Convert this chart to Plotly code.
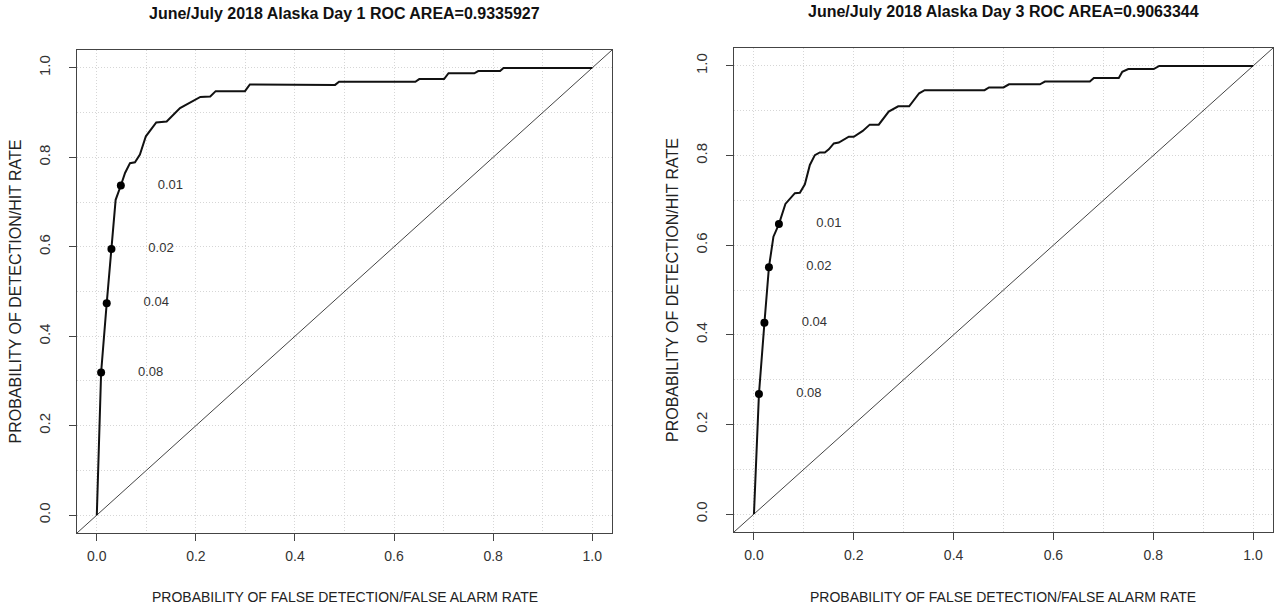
import plotly.graph_objects as go

# ---------------- Data ----------------
# Day 1 ROC curve (POFD, POD)
day1_pofd = [0.0, 0.0087, 0.020, 0.0295, 0.038, 0.0485, 0.057, 0.067, 0.077, 0.087, 0.099,
             0.120, 0.141, 0.168, 0.209, 0.229, 0.240, 0.299, 0.309, 0.481, 0.489, 0.643,
             0.651, 0.701, 0.710, 0.762, 0.770, 0.814, 0.821, 1.0]
day1_pod = [0.0, 0.319, 0.474, 0.595, 0.705, 0.737, 0.765, 0.787, 0.789, 0.806, 0.847,
            0.878, 0.880, 0.910, 0.935, 0.936, 0.948, 0.948, 0.963, 0.962, 0.969, 0.969,
            0.975, 0.975, 0.988, 0.988, 0.993, 0.993, 1.0, 1.0]
day1_thr_pofd = [0.0485, 0.0295, 0.020, 0.0087]
day1_thr_pod = [0.737, 0.595, 0.474, 0.319]

# Day 3 ROC curve
day3_pofd = [0.0, 0.010, 0.021, 0.030, 0.039, 0.050, 0.063, 0.082, 0.092, 0.102, 0.112,
             0.122, 0.132, 0.142, 0.150, 0.160, 0.170, 0.180, 0.190, 0.200, 0.218, 0.232,
             0.250, 0.270, 0.289, 0.311, 0.331, 0.342, 0.462, 0.471, 0.500, 0.511, 0.573,
             0.583, 0.673, 0.681, 0.731, 0.738, 0.750, 0.801, 0.812, 1.0]
day3_pod = [0.0, 0.268, 0.427, 0.551, 0.619, 0.647, 0.692, 0.716, 0.717, 0.736, 0.779,
            0.801, 0.807, 0.807, 0.814, 0.827, 0.829, 0.836, 0.842, 0.842, 0.855, 0.869,
            0.869, 0.898, 0.910, 0.910, 0.939, 0.946, 0.946, 0.952, 0.952, 0.959, 0.959,
            0.965, 0.965, 0.973, 0.973, 0.987, 0.993, 0.993, 1.0, 1.0]
day3_thr_pofd = [0.050, 0.030, 0.021, 0.010]
day3_thr_pod = [0.647, 0.551, 0.427, 0.268]

thr_labels = ["0.01", "0.02", "0.04", "0.08"]
label_offset = 0.1

titles = ["June/July 2018 Alaska Day 1 ROC AREA=0.9335927",
          "June/July 2018 Alaska Day 3 ROC AREA=0.9063344"]
xtitle = "PROBABILITY OF FALSE DETECTION/FALSE ALARM RATE"
ytitle = "PROBABILITY OF DETECTION/HIT RATE"
tick_vals = [0.0, 0.2, 0.4, 0.6, 0.8, 1.0]
tick_text = ["0.0", "0.2", "0.4", "0.6", "0.8", "1.0"]
diag = [-0.2, 1.2]

# ---------------- Figure ----------------
W, H = 1278, 609
FONT = "Liberation Sans, Arial, sans-serif"
fig = go.Figure()

panels = [
    dict(pofd=day1_pofd, pod=day1_pod, tx=day1_thr_pofd, ty=day1_thr_pod,
         xd=(77, 612), yd=(50, 533), xa="x", ya="y", title=titles[0], ytx=15, tty=14),
    dict(pofd=day3_pofd, pod=day3_pod, tx=day3_thr_pofd, ty=day3_thr_pod,
         xd=(734, 1273), yd=(48, 532), xa="x2", ya="y2", title=titles[1], ytx=672, tty=12),
]

GRID = "#d6d6d6"
for i, p in enumerate(panels):
    # diagonal
    fig.add_trace(go.Scatter(x=diag, y=diag, mode="lines",
                             line=dict(color="#444444", width=1),
                             xaxis=p["xa"], yaxis=p["ya"], showlegend=False, hoverinfo="skip"))
    # ROC curve
    fig.add_trace(go.Scatter(x=p["pofd"], y=p["pod"], mode="lines",
                             line=dict(color="#111111", width=2),
                             xaxis=p["xa"], yaxis=p["ya"], showlegend=False))
    # threshold points
    fig.add_trace(go.Scatter(x=p["tx"], y=p["ty"], mode="markers",
                             marker=dict(color="#000000", size=8),
                             xaxis=p["xa"], yaxis=p["ya"], showlegend=False))
    # threshold labels
    fig.add_trace(go.Scatter(x=[v + label_offset for v in p["tx"]], y=p["ty"], mode="text",
                             text=thr_labels, textposition="middle center",
                             textfont=dict(family=FONT, size=13, color="#333333"),
                             xaxis=p["xa"], yaxis=p["ya"], showlegend=False))

    axis_common = dict(range=[-0.04, 1.04], tickvals=tick_vals, ticktext=tick_text,
                       ticks="outside", ticklen=7, tickcolor="#444444", tickwidth=1,
                       showline=True, mirror=True, linecolor="#444444", linewidth=1,
                       showgrid=True, gridcolor=GRID, griddash="1px,2px", gridwidth=1,
                       minor=dict(dtick=0.1, tick0=0, showgrid=True, gridcolor=GRID,
                                  griddash="1px,2px", gridwidth=1, ticks=""),
                       zeroline=False)
    xkey = "xaxis" if i == 0 else "xaxis2"
    ykey = "yaxis" if i == 0 else "yaxis2"
    fig.update_layout({
        xkey: dict(axis_common, domain=[p["xd"][0] / W, p["xd"][1] / W],
                   anchor=p["ya"], ticklabelstandoff=3,
                   tickfont=dict(family=FONT, size=14, color="#333333")),
        ykey: dict(axis_common, domain=[1 - p["yd"][1] / H, 1 - p["yd"][0] / H],
                   anchor=p["xa"], tickangle=-90, ticklabelstandoff=13,
                   tickfont=dict(family=FONT, size=15, color="#333333")),
    })

    cx = (p["xd"][0] + p["xd"][1]) / 2 / W
    fig.add_annotation(text="<b>" + p["title"] + "</b>", x=cx, y=1 - p["tty"] / H,
                       xref="paper", yref="paper", showarrow=False,
                       font=dict(family=FONT, size=16, color="#111111"),
                       xanchor="center", yanchor="middle")
    fig.add_annotation(text=xtitle, x=cx, y=1 - 597 / H, xref="paper", yref="paper",
                       showarrow=False, font=dict(family=FONT, size=14, color="#222222"),
                       xanchor="center", yanchor="middle")
    cy = 1 - (p["yd"][0] + p["yd"][1]) / 2 / H
    fig.add_annotation(text=ytitle, x=p["ytx"] / W, y=cy, xref="paper", yref="paper",
                       showarrow=False, textangle=-90,
                       font=dict(family=FONT, size=16, color="#222222"),
                       xanchor="center", yanchor="middle")

fig.update_layout(width=W, height=H, margin=dict(l=0, r=0, t=0, b=0),
                  paper_bgcolor="white", plot_bgcolor="white", showlegend=False)

fig.write_html("out.html", config={"displayModeBar": False},
               post_script="document.body.style.margin='0';document.body.style.overflow='hidden';")
